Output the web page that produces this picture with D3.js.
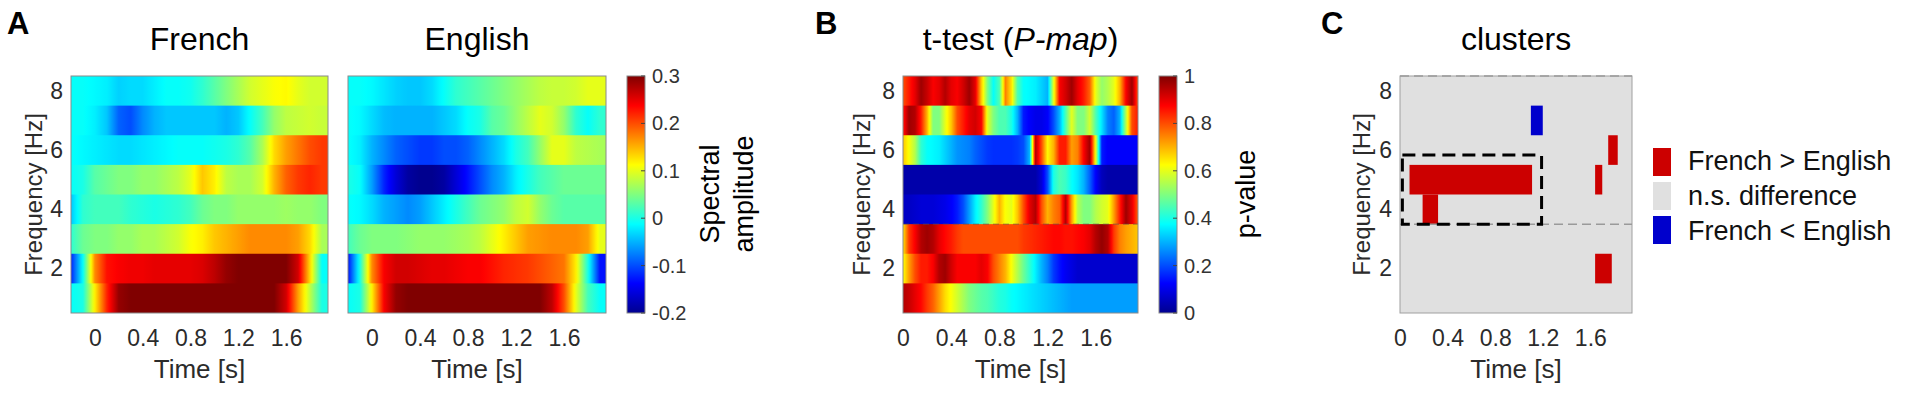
<!DOCTYPE html>
<html>
<head>
<meta charset="utf-8">
<script src="https://cdn.jsdelivr.net/npm/d3@7"></script>
<style>
body { margin: 0; background: #fff; }
svg { display: block; }
text { font-family: "Liberation Sans", Arial, Helvetica, sans-serif; }
</style>
</head>
<body>
<svg id="fig" width="1914" height="400"></svg>
<script>
// ---- data (rows listed from 8 Hz at the top down to 1 Hz) ----
var freqs = [8, 7, 6, 5, 4, 3, 2, 1];

var timeA = [-0.2, -0.1, 0, 0.1, 0.2, 0.3, 0.4, 0.5, 0.6, 0.7, 0.8, 0.9, 1.0, 1.1, 1.2, 1.3, 1.4, 1.5, 1.6, 1.7, 1.8, 1.9];

var french = [
  [-0.01,-0.01,-0.015,-0.02,-0.035,-0.03,-0.03,-0.02,-0.01,-0.01,-0.005,0.01,0.03,0.05,0.07,0.09,0.1,0.11,0.115,0.1,0.09,0.09],
  [-0.01,-0.01,-0.02,-0.04,-0.09,-0.1,-0.07,-0.05,-0.04,-0.04,-0.04,-0.04,-0.04,-0.05,-0.04,-0.01,0.02,0.06,0.08,0.085,0.09,0.085],
  [-0.01,-0.015,-0.02,-0.025,-0.03,-0.03,-0.025,-0.02,-0.015,-0.01,-0.01,-0.01,-0.005,0,0.01,0.03,0.07,0.13,0.16,0.18,0.2,0.21],
  [-0.01,0,0.03,0.04,0.05,0.05,0.06,0.06,0.07,0.08,0.1,0.14,0.12,0.08,0.07,0.07,0.09,0.15,0.19,0.21,0.22,0.21],
  [-0.04,0.01,0.02,0.02,0.02,0.01,0.005,0,0.005,0.01,0.02,0.04,0.05,0.05,0.06,0.06,0.06,0.06,0.065,0.06,0.06,0.05],
  [0.01,0.04,0.05,0.05,0.06,0.06,0.07,0.07,0.08,0.09,0.11,0.12,0.14,0.15,0.16,0.17,0.17,0.17,0.17,0.16,0.13,0.07],
  [-0.12,-0.01,0.17,0.23,0.24,0.245,0.245,0.25,0.25,0.25,0.25,0.255,0.27,0.29,0.3,0.3,0.3,0.3,0.3,0.26,0.13,-0.01],
  [-0.01,0,0.12,0.22,0.29,0.3,0.3,0.3,0.3,0.3,0.3,0.3,0.3,0.3,0.3,0.3,0.3,0.3,0.26,0.16,0.08,0]
];

var english = [
  [-0.01,-0.01,-0.015,-0.025,-0.035,-0.04,-0.04,-0.03,-0.01,0.01,0.02,0.03,0.04,0.05,0.06,0.07,0.08,0.085,0.085,0.09,0.1,0.1],
  [-0.01,-0.015,-0.03,-0.045,-0.05,-0.05,-0.05,-0.05,-0.04,-0.03,-0.01,0,0.03,0.04,0.06,0.08,0.1,0.09,0.06,0.01,-0.01,0.01],
  [-0.01,-0.02,-0.05,-0.07,-0.09,-0.1,-0.11,-0.11,-0.1,-0.1,-0.09,-0.07,-0.05,-0.03,0,0.02,0.06,0.1,0.1,0.08,0.075,0.07],
  [0,-0.01,-0.06,-0.12,-0.16,-0.19,-0.2,-0.2,-0.19,-0.16,-0.13,-0.1,-0.07,-0.05,-0.02,0,0.02,0.03,0.04,0.04,0.04,0.04],
  [-0.01,-0.015,-0.03,-0.05,-0.06,-0.07,-0.06,-0.04,-0.02,0,0.02,0.04,0.05,0.06,0.08,0.09,0.06,0.04,0.03,0.03,0.03,0.03],
  [0.02,0.04,0.05,0.05,0.05,0.055,0.06,0.06,0.06,0.065,0.07,0.08,0.1,0.12,0.14,0.16,0.165,0.17,0.17,0.17,0.16,0.1],
  [-0.13,0,0.17,0.24,0.26,0.26,0.255,0.25,0.25,0.245,0.24,0.24,0.23,0.22,0.215,0.21,0.2,0.19,0.18,0.12,0,-0.13],
  [-0.01,0,0.12,0.24,0.29,0.3,0.3,0.3,0.3,0.3,0.3,0.3,0.3,0.3,0.3,0.3,0.3,0.27,0.2,0.1,0.02,-0.01]
];

var timeB = [0,0.05,0.1,0.15,0.2,0.25,0.3,0.35,0.4,0.45,0.5,0.55,0.6,0.65,0.7,0.75,0.8,0.85,0.9,0.95,
             1.0,1.05,1.1,1.15,1.2,1.25,1.3,1.35,1.4,1.45,1.5,1.55,1.6,1.65,1.7,1.75,1.8,1.85,1.9,1.95];

var pmap = [
  [0.8,0.85,0.9,0.97,0.93,0.88,0.9,0.95,0.9,0.88,0.92,0.97,0.9,0.68,0.5,0.38,0.45,0.75,0.65,0.45,0.38,0.37,0.36,0.33,0.3,0.6,0.88,0.92,0.97,0.9,0.85,0.78,0.6,0.52,0.55,0.6,0.7,0.88,0.97,0.8],
  [0.85,0.97,0.95,0.85,0.7,0.5,0.5,0.6,0.68,0.8,0.85,0.9,0.92,0.88,0.6,0.5,0.45,0.45,0.4,0.3,0.15,0.12,0.1,0.1,0.12,0.2,0.3,0.45,0.6,0.5,0.5,0.58,0.45,0.35,0.25,0.22,0.3,0.55,0.8,0.85],
  [0.68,0.62,0.55,0.42,0.38,0.37,0.36,0.33,0.3,0.27,0.26,0.25,0.22,0.2,0.18,0.17,0.17,0.17,0.17,0.18,0.2,0.3,0.95,0.8,0.63,0.7,0.85,0.85,0.72,0.75,0.88,0.97,0.6,0.15,0.12,0.12,0.12,0.12,0.12,0.12],
  [0.03,0.03,0.03,0.03,0.03,0.03,0.03,0.03,0.03,0.03,0.03,0.03,0.03,0.03,0.03,0.03,0.03,0.03,0.03,0.03,0.03,0.03,0.03,0.08,0.2,0.4,0.45,0.43,0.38,0.35,0.3,0.22,0.12,0.05,0.03,0.03,0.03,0.03,0.03,0.03],
  [0.06,0.06,0.07,0.08,0.08,0.08,0.09,0.1,0.12,0.15,0.2,0.28,0.36,0.42,0.5,0.6,0.7,0.62,0.6,0.68,0.8,0.9,0.95,0.8,0.7,0.75,0.78,0.95,0.72,0.55,0.5,0.5,0.55,0.58,0.6,0.72,0.85,0.97,0.9,0.78],
  [0.65,0.82,0.88,0.95,0.97,0.95,0.9,0.87,0.85,0.82,0.8,0.8,0.8,0.8,0.8,0.8,0.8,0.8,0.8,0.8,0.82,0.83,0.84,0.85,0.86,0.87,0.87,0.86,0.86,0.87,0.88,0.9,0.95,0.98,0.95,0.82,0.75,0.72,0.7,0.68],
  [0.62,0.72,0.8,0.85,0.85,0.88,0.95,0.97,0.92,0.88,0.88,0.88,0.88,0.9,0.88,0.8,0.75,0.7,0.62,0.55,0.48,0.42,0.36,0.3,0.25,0.18,0.14,0.11,0.09,0.07,0.07,0.07,0.07,0.07,0.07,0.07,0.07,0.07,0.07,0.07],
  [0.95,0.93,0.9,0.87,0.82,0.78,0.72,0.66,0.62,0.58,0.54,0.5,0.48,0.46,0.45,0.43,0.41,0.4,0.38,0.37,0.36,0.35,0.34,0.33,0.32,0.31,0.3,0.29,0.28,0.28,0.28,0.28,0.28,0.28,0.28,0.28,0.28,0.28,0.28,0.28]
];

// significant clusters (panel C)
var clusterStart = [0.08, 0.19, 1.10, 1.64, 1.75, 1.64];
var clusterEnd   = [1.11, 0.32, 1.20, 1.70, 1.83, 1.78];
var clusterFreq  = [5, 4, 7, 5, 6, 2];
var clusterSign  = [1, 1, -1, 1, 1, 1];
var boxTime = [0.02, 1.19];
var boxFreq = [3.5, 5.83];

var timeTicks = [0, 0.4, 0.8, 1.2, 1.6];
var freqTicks = [8, 6, 4, 2];
var ampTicks = [0.3, 0.2, 0.1, 0, -0.1, -0.2];
var pTicks = [1, 0.8, 0.6, 0.4, 0.2, 0];
var legendLabels = ["French > English", "n.s. difference", "French < English"];
var legendColors = ["#cc0000", "#e0e0e0", "#0000cc"];

// ---- setup ----
var FONT = '"Liberation Sans", Arial, Helvetica, sans-serif';
var svg = d3.select("#fig");
var defs = svg.append("defs");
var mapTop = 76, mapH = 237;

var jetStops = [0, 0.125, 0.375, 0.625, 0.875, 1];
var jetColors = ["#00008f", "#0000ff", "#00ffff", "#ffff00", "#ff0000", "#800000"];
function jet(lo, hi) {
  return d3.scaleLinear()
    .domain(jetStops.map(function(s) { return lo + s * (hi - lo); }))
    .range(jetColors)
    .clamp(true);
}
var ampColor = jet(-0.2, 0.3);
var pColor = jet(0, 1);

function panel(left, width, tDomain) {
  var g = svg.append("g").attr("transform", "translate(" + left + "," + mapTop + ")");
  var x = d3.scaleLinear().domain(tDomain).range([0, width]);
  var y = d3.scaleLinear().domain([0.5, 8.5]).range([mapH, 0]);
  return { g: g, x: x, y: y, width: width };
}

// one rect per frequency row, shaded along time like matlab "shading interp"
function heat(p, times, rows, color, id) {
  var x0 = p.x(times[0]), x1 = p.x(times[times.length - 1]);
  rows.forEach(function(vals, i) {
    var stops = [];
    for (var j = 0; j < vals.length - 1; j++) {
      for (var k = 0; k < 6; k++) {
        var u = k / 6;
        stops.push({ t: times[j] + u * (times[j + 1] - times[j]), v: vals[j] + u * (vals[j + 1] - vals[j]) });
      }
    }
    stops.push({ t: times[times.length - 1], v: vals[vals.length - 1] });
    var gid = id + "-row" + i;
    var grad = defs.append("linearGradient").attr("id", gid)
      .attr("gradientUnits", "userSpaceOnUse")
      .attr("x1", x0).attr("x2", x1).attr("y1", 0).attr("y2", 0);
    grad.selectAll("stop").data(stops).enter().append("stop")
      .attr("offset", function(d) { return (p.x(d.t) - x0) / (x1 - x0); })
      .attr("stop-color", function(d) { return color(d.v); });
    var f = freqs[i];
    // rows overlap by a pixel so no white seam shows between them
    var y0 = p.y(f + 0.5), y1 = Math.min(mapH, p.y(f - 0.5) + 1);
    p.g.append("rect")
      .attr("x", 0).attr("width", p.width)
      .attr("y", y0).attr("height", y1 - y0)
      .attr("fill", "url(#" + gid + ")");
  });
}

function frame(p, col) {
  p.g.append("rect").attr("width", p.width).attr("height", mapH)
    .attr("fill", "none").attr("stroke", col || "#8a8a8a").attr("stroke-width", 1);
}

function xAxis(p) {
  p.g.append("g").attr("transform", "translate(0," + mapH + ")")
    .call(d3.axisBottom(p.x).tickValues(timeTicks).tickSize(0).tickPadding(17)
      .tickFormat(function(d) { return d; }))
    .attr("font-size", 23).attr("font-family", FONT)
    .call(function(a) { a.select(".domain").remove(); })
    .selectAll("text").attr("fill", "#2b2b2b");
  p.g.append("text").attr("x", p.width / 2).attr("y", mapH + 65)
    .attr("text-anchor", "middle").attr("font-size", 26).attr("fill", "#2b2b2b")
    .text("Time [s]");
}

function yAxis(p, labelOff) {
  p.g.append("g")
    .call(d3.axisLeft(p.y).tickValues(freqTicks).tickSize(0).tickPadding(8))
    .attr("font-size", 23).attr("font-family", FONT)
    .call(function(a) { a.select(".domain").remove(); })
    .selectAll("text").attr("fill", "#2b2b2b");
  p.g.append("text")
    .attr("transform", "translate(" + labelOff + "," + (mapH / 2) + ") rotate(-90)")
    .attr("text-anchor", "middle").attr("dy", "0.35em")
    .attr("font-size", 24).attr("fill", "#2b2b2b")
    .text("Frequency [Hz]");
}

function title(p, txt) {
  return p.g.append("text").attr("x", p.width / 2).attr("y", 50 - mapTop)
    .attr("text-anchor", "middle").attr("font-size", 32).attr("fill", "#000")
    .text(txt);
}

function colorbar(left, lo, hi, ticks, id) {
  var g = svg.append("g").attr("transform", "translate(" + left + "," + mapTop + ")");
  var s = d3.scaleLinear().domain([lo, hi]).range([mapH, 0]);
  var grad = defs.append("linearGradient").attr("id", id)
    .attr("x1", 0).attr("y1", 1).attr("x2", 0).attr("y2", 0);
  grad.selectAll("stop").data(jetStops).enter().append("stop")
    .attr("offset", function(d) { return d; })
    .attr("stop-color", function(d, i) { return jetColors[i]; });
  g.append("rect").attr("width", 18).attr("height", mapH)
    .attr("fill", "url(#" + id + ")").attr("stroke", "#8a8a8a");
  g.selectAll("line.tk").data(ticks).enter().append("line").attr("class", "tk")
    .attr("x1", 14).attr("x2", 18)
    .attr("y1", function(d) { return s(d); }).attr("y2", function(d) { return s(d); })
    .attr("stroke", "#444");
  g.append("g").attr("transform", "translate(18,0)")
    .call(d3.axisRight(s).tickValues(ticks).tickSize(0).tickPadding(7)
      .tickFormat(function(d) { return d; }))
    .attr("font-size", 20).attr("font-family", FONT)
    .call(function(a) { a.select(".domain").remove(); })
    .selectAll("text").attr("fill", "#333");
  return g;
}

function letter(x, txt) {
  svg.append("text").attr("x", x).attr("y", 34)
    .attr("font-size", 31).attr("font-weight", "bold").attr("fill", "#000").text(txt);
}

// ---- panel A ----
letter(7, "A");
var fr = panel(71, 257, [-0.2, 1.95]);
heat(fr, timeA, french, ampColor, "fr");
frame(fr);
xAxis(fr);
yAxis(fr, -37);
title(fr, "French");

var en = panel(348, 258, [-0.2, 1.95]);
heat(en, timeA, english, ampColor, "en");
frame(en);
xAxis(en);
title(en, "English");

colorbar(627, -0.2, 0.3, ampTicks, "cbA");
svg.append("text").attr("transform", "translate(710,194) rotate(-90)")
  .attr("text-anchor", "middle").attr("dy", "0.35em").attr("font-size", 27).text("Spectral");
svg.append("text").attr("transform", "translate(744,194) rotate(-90)")
  .attr("text-anchor", "middle").attr("dy", "0.35em").attr("font-size", 27).text("amplitude");

// ---- panel B ----
letter(815, "B");
var pb = panel(903, 235, [0, 1.95]);
heat(pb, timeB, pmap, pColor, "pb");
pb.g.append("line").attr("x1", 0).attr("x2", pb.width)
  .attr("y1", pb.y(3.5)).attr("y2", pb.y(3.5))
  .attr("stroke", "#555").attr("stroke-width", 1).attr("stroke-dasharray", "6,4").attr("opacity", 0.6);
frame(pb);
xAxis(pb);
yAxis(pb, -41);
var tb = title(pb, "t-test (");
tb.append("tspan").attr("font-style", "italic").text("P-map");
tb.append("tspan").text(")");

colorbar(1159, 0, 1, pTicks, "cbB");
svg.append("text").attr("transform", "translate(1246,194) rotate(-90)")
  .attr("text-anchor", "middle").attr("dy", "0.35em").attr("font-size", 27).text("p-value");

// ---- panel C ----
letter(1321, "C");
var pc = panel(1400, 232, [0, 1.95]);
pc.g.append("rect").attr("width", pc.width).attr("height", mapH).attr("fill", "#e0e0e0");
pc.g.selectAll("rect.cl").data(clusterFreq).enter().append("rect").attr("class", "cl")
  .attr("x", function(d, i) { return pc.x(clusterStart[i]); })
  .attr("width", function(d, i) { return pc.x(clusterEnd[i]) - pc.x(clusterStart[i]); })
  .attr("y", function(d) { return pc.y(d + 0.5); })
  .attr("height", function(d) { return pc.y(d - 0.5) - pc.y(d + 0.5); })
  .attr("fill", function(d, i) { return clusterSign[i] > 0 ? legendColors[0] : legendColors[2]; });
frame(pc, "#a0a0a0");
[3.5, 8.5].forEach(function(f) {
  pc.g.append("line").attr("x1", 0).attr("x2", pc.width)
    .attr("y1", pc.y(f)).attr("y2", pc.y(f))
    .attr("stroke", "#9a9a9a").attr("stroke-width", 1.5).attr("stroke-dasharray", "9,5");
});
pc.g.append("rect")
  .attr("x", pc.x(boxTime[0])).attr("width", pc.x(boxTime[1]) - pc.x(boxTime[0]))
  .attr("y", pc.y(boxFreq[1])).attr("height", pc.y(boxFreq[0]) - pc.y(boxFreq[1]))
  .attr("fill", "none").attr("stroke", "#000").attr("stroke-width", 3)
  .attr("stroke-dasharray", "13,7");
xAxis(pc);
yAxis(pc, -38);
title(pc, "clusters");

// legend
var leg = svg.append("g").attr("transform", "translate(1653,148)");
leg.selectAll("rect").data(legendLabels).enter().append("rect")
  .attr("x", 0).attr("y", function(d, i) { return i * 34; })
  .attr("width", 18).attr("height", 28)
  .attr("fill", function(d, i) { return legendColors[i]; });
leg.selectAll("text").data(legendLabels).enter().append("text")
  .attr("x", 35).attr("y", function(d, i) { return i * 35 + 22; })
  .attr("font-size", 27).attr("fill", "#111")
  .text(function(d) { return d; });
</script>
</body>
</html>
